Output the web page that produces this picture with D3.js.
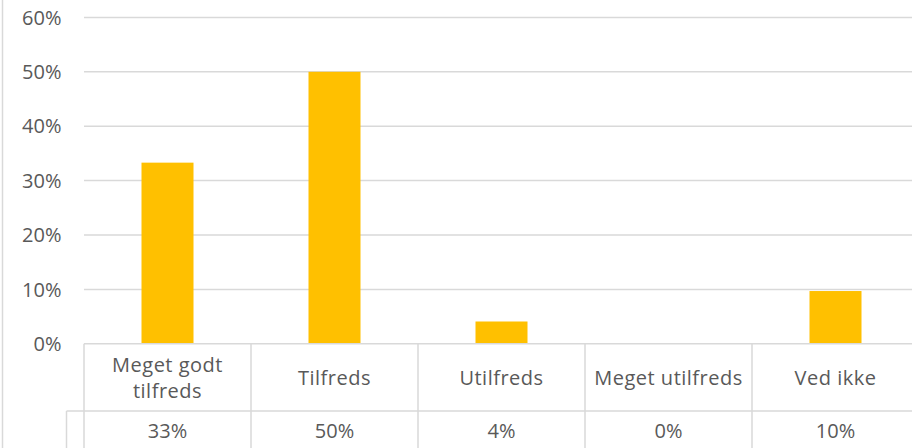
<!DOCTYPE html>
<html><head><meta charset="utf-8">
<script src="https://cdn.jsdelivr.net/npm/d3@7"></script>
<style>body{margin:0;background:#fff;overflow:hidden}svg{display:block}</style>
</head><body>
<svg id="c" width="912" height="448"></svg>
<script>
const categories = ["Meget godt tilfreds","Tilfreds","Utilfreds","Meget utilfreds","Ved ikke"];
const values = [0.333, 0.50, 0.041, 0.0, 0.097];
const valueLabels = ["33%","50%","4%","0%","10%"];
const yTicks = [0,0.1,0.2,0.3,0.4,0.5,0.6];

const svg = d3.select("#c");
const FONT = "'Open Sans', sans-serif";
const FS = 20;
const TXT = "#595959", GRID = "#d9d9d9";
const x0 = 84, colW = 167, yTop = 17.4, yBot = 343.8;
const x = d3.scaleBand().domain(categories).range([x0, x0 + colW*categories.length]).paddingInner(0).paddingOuter(0);
const y = d3.scaleLinear().domain([0,0.6]).range([yBot, yTop]);

// left frame line
svg.append("line").attr("x1",2.5).attr("x2",2.5).attr("y1",0).attr("y2",448).attr("stroke",GRID).attr("stroke-width",1.5);

// gridlines
svg.append("g").selectAll("line").data(yTicks.filter(d=>d>0)).join("line")
  .attr("x1",x0).attr("x2",912).attr("y1",d=>y(d)).attr("y2",d=>y(d))
  .attr("stroke",GRID).attr("stroke-width",1.5);

// y labels
svg.append("g").selectAll("text").data(yTicks).join("text")
  .attr("x",61.5).attr("y",d=>y(d)).attr("dy","0.36em").attr("text-anchor","end")
  .attr("font-family",FONT).attr("font-size",FS).attr("fill",TXT)
  .text(d3.format(".0%"));

// bars
const bw = 52;
svg.append("g").selectAll("rect").data(values).join("rect")
  .attr("x",(d,i)=>x(categories[i]) + x.bandwidth()/2 - bw/2)
  .attr("width",bw)
  .attr("y",d=>y(d)).attr("height",d=>y(0)-y(d))
  .attr("fill","#FFC000");

// table
const rowMid = 411;
const tbl = svg.append("g").attr("stroke",GRID).attr("stroke-width",1.5);
tbl.append("line").attr("x1",x0).attr("x2",912).attr("y1",y(0)).attr("y2",y(0));
tbl.append("line").attr("x1",66.5).attr("x2",912).attr("y1",rowMid).attr("y2",rowMid);
tbl.append("line").attr("x1",66.5).attr("x2",66.5).attr("y1",rowMid).attr("y2",448);
tbl.selectAll("line.v").data(categories).join("line").attr("class","v")
  .attr("x1",d=>x(d)).attr("x2",d=>x(d)).attr("y1",y(0)).attr("y2",448);

// category labels
const catLines = [["Meget godt","tilfreds"],["Tilfreds"],["Utilfreds"],["Meget utilfreds"],["Ved ikke"]];
const cg = svg.append("g");
categories.forEach((c,i)=>{
  const lines = catLines[i];
  const cy = (y(0)+rowMid)/2;
  const lh = 26;
  lines.forEach((l,j)=>{
    cg.append("text").attr("x",x(c)+x.bandwidth()/2)
      .attr("y",cy + (j - (lines.length-1)/2)*lh).attr("dy","0.36em")
      .attr("text-anchor","middle").attr("font-family",FONT).attr("font-size",FS).attr("fill",TXT)
      .attr("letter-spacing","0.5px")
      .text(l);
  });
});
// value labels
svg.append("g").selectAll("text").data(valueLabels).join("text")
  .attr("x",(d,i)=>x(categories[i])+x.bandwidth()/2).attr("y",431).attr("dy","0.36em")
  .attr("text-anchor","middle").attr("font-family",FONT).attr("font-size",FS).attr("fill",TXT)
  .text(d=>d);
</script>
</body></html>
